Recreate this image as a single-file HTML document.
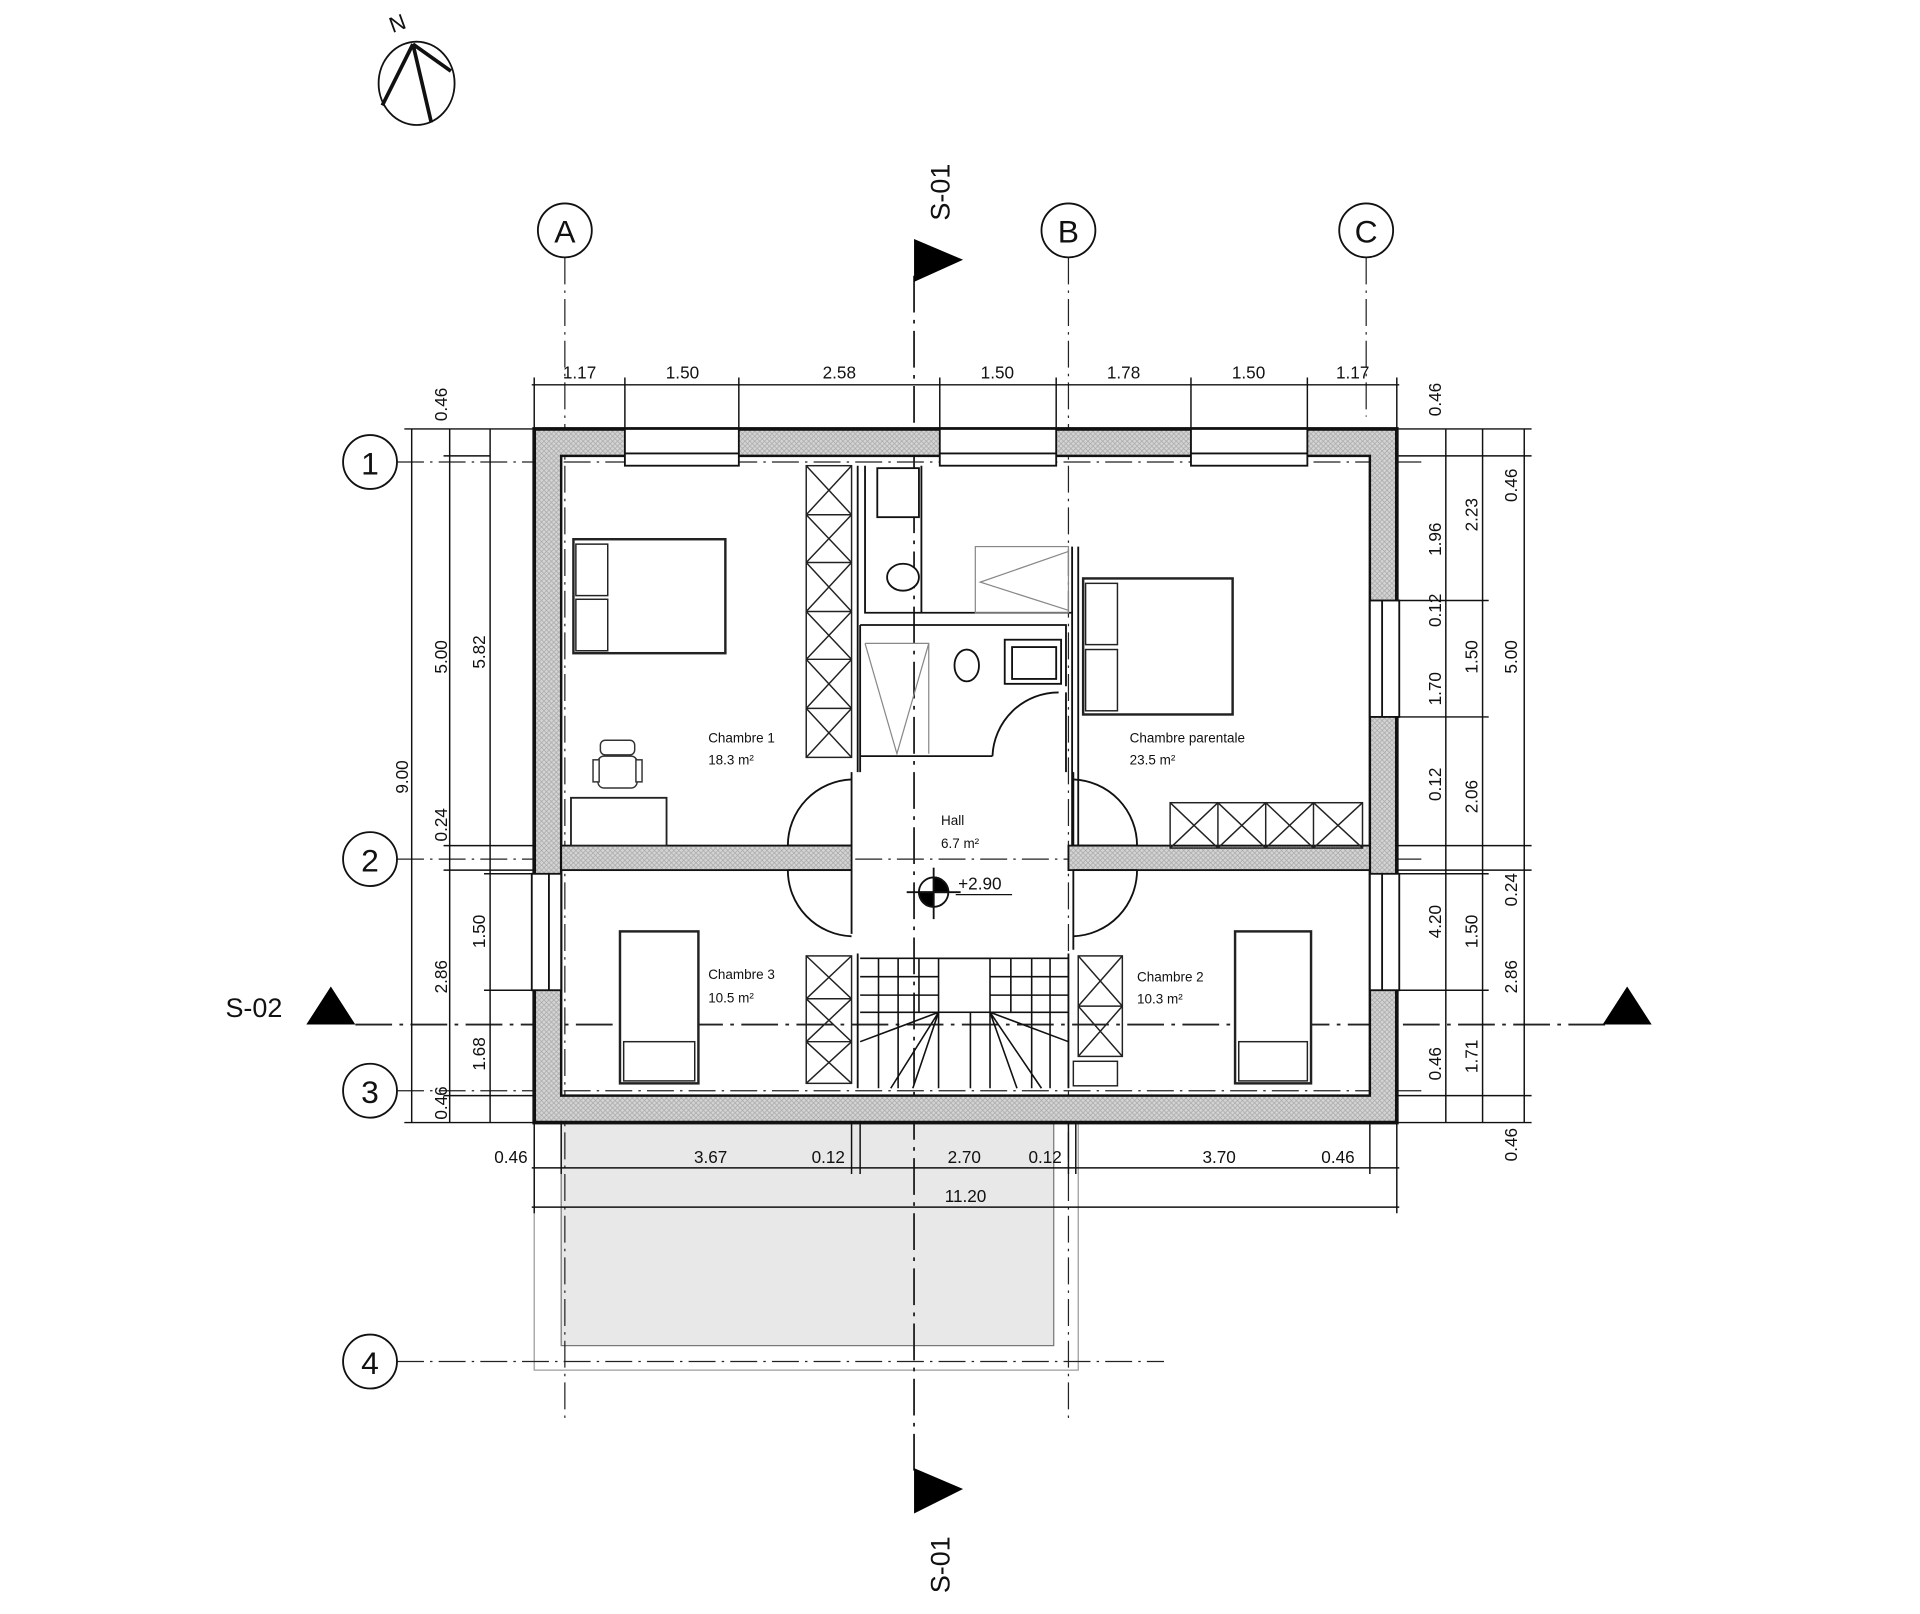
<!DOCTYPE html>
<html><head><meta charset="utf-8"><style>
html,body{margin:0;padding:0;background:#fff;}
svg{display:block;}
text{font-family:"Liberation Sans",sans-serif;fill:#111;}
</style></head><body>
<svg width="1920" height="1614" viewBox="0 0 1567 1317" preserveAspectRatio="none" xmlns="http://www.w3.org/2000/svg">
<defs>
<pattern id="h" width="4" height="4" patternUnits="userSpaceOnUse">
<rect width="4" height="4" fill="#d4d4d4"/><path d="M0,0L4,4M4,0L0,4" stroke="#a8a8a8" stroke-width="0.6"/>
</pattern>
</defs>
<rect width="1567" height="1317" fill="#fff"/>

<!-- compass -->
<g stroke="#111" fill="none">
<ellipse cx="340" cy="68" rx="31" ry="34" stroke-width="1.5"/>
<path d="M337,36 L312,86 M337,36 L352,100 M337,36 L368,58" stroke-width="3"/>
</g>
<text x="318" y="26" font-size="18" transform="rotate(-20 322 20)">N</text>

<!-- balcony -->
<rect x="436" y="916" width="444" height="202" fill="none" stroke="#999" stroke-width="1"/>
<rect x="458" y="916" width="402" height="182" fill="#e8e8e8" stroke="#777" stroke-width="1"/>

<!-- grid lines -->
<g stroke="#222" stroke-width="1" stroke-dasharray="22,5,2,5" fill="none">
<line x1="461" y1="210" x2="461" y2="1160"/>
<line x1="872" y1="210" x2="872" y2="1160"/>
<line x1="1115" y1="210" x2="1115" y2="340"/>
<line x1="324" y1="377" x2="1160" y2="377"/>
<line x1="324" y1="701" x2="1160" y2="701"/>
<line x1="324" y1="890" x2="1160" y2="890"/>
<line x1="324" y1="1111" x2="950" y2="1111"/>
<line x1="746" y1="225" x2="746" y2="1205" stroke-width="1.5" stroke-dasharray="30,6,3,6"/>
<line x1="290" y1="836" x2="1310" y2="836" stroke-width="1.5" stroke-dasharray="30,6,3,6"/>
</g>
<g stroke="#111" stroke-width="1.5" fill="#fff">
<circle cx="461" cy="188" r="22"/><circle cx="872" cy="188" r="22"/><circle cx="1115" cy="188" r="22"/>
<circle cx="302" cy="377" r="22"/><circle cx="302" cy="701" r="22"/><circle cx="302" cy="890" r="22"/><circle cx="302" cy="1111" r="22"/>
</g>
<g font-size="26" text-anchor="middle">
<text x="461" y="198">A</text><text x="872" y="198">B</text><text x="1115" y="198">C</text>
<text x="302" y="387">1</text><text x="302" y="711">2</text><text x="302" y="900">3</text><text x="302" y="1121">4</text>
</g>

<!-- section markers -->
<path d="M746,195 L786,212 L746,230Z" fill="#000"/>
<path d="M746,1198 L786,1215 L746,1235Z" fill="#000"/>
<path d="M250,836 L270,805 L290,836Z" fill="#000"/>
<path d="M1308,836 L1328,805 L1348,836Z" fill="#000"/>
<text x="775" y="180" font-size="22" transform="rotate(-90 775 180)">S-01</text>
<text x="775" y="1300" font-size="22" transform="rotate(-90 775 1300)">S-01</text>
<text x="184" y="830" font-size="22">S-02</text>

<!-- walls -->
<path d="M436,350H1140V916H436Z M458,372V894H1118V372Z" fill="url(#h)" fill-rule="evenodd"/>
<rect x="436" y="350" width="704" height="566" fill="none" stroke="#111" stroke-width="3"/>
<rect x="458" y="372" width="660" height="522" fill="none" stroke="#111" stroke-width="2"/>
<rect x="458" y="690" width="237" height="20" fill="url(#h)" stroke="#111" stroke-width="1.5"/>
<rect x="872" y="690" width="246" height="20" fill="url(#h)" stroke="#111" stroke-width="1.5"/>
<g fill="#fff" stroke="#111" stroke-width="1.5">
<rect x="510" y="350" width="93" height="30"/><rect x="767" y="350" width="95" height="30"/><rect x="972" y="350" width="95" height="30"/>
<rect x="1118" y="490" width="24" height="95"/><rect x="1118" y="713" width="24" height="95"/>
<rect x="434" y="713" width="24" height="95"/>
</g>
<g stroke="#111" stroke-width="1.5">
<line x1="510" y1="370" x2="603" y2="370"/><line x1="767" y1="370" x2="862" y2="370"/><line x1="972" y1="370" x2="1067" y2="370"/>
<line x1="1128" y1="490" x2="1128" y2="585"/><line x1="1128" y1="713" x2="1128" y2="808"/><line x1="448" y1="713" x2="448" y2="808"/>
</g>

<!-- partitions -->
<g fill="none" stroke="#111" stroke-width="1.5">
<path d="M700,380V630 M706,380V500H752V380 M706,500H875V446 M880,446V690 M875,446V690"/>
<path d="M702,510H870V560 M702,510V617H810 M702,617V630 M870,565V630"/>
<path d="M695,630V690 M695,710V762 M876,630V690 M876,710V775"/>
<path d="M700,778V888 M872,778V888"/>
</g>
<g fill="none" stroke="#888" stroke-width="1">
<rect x="796" y="446" width="76" height="54"/><path d="M872,450L800,475L872,498"/>
<path d="M706,525H758V615 M706,525L732,615L758,525"/>
</g>
<g fill="#fff" stroke="#111" stroke-width="1.5">
<rect x="716" y="382" width="34" height="40"/>
<ellipse cx="737" cy="471" rx="13" ry="11"/>
<ellipse cx="789" cy="543" rx="10" ry="13"/>
<rect x="820" y="522" width="46" height="36"/><rect x="826" y="528" width="36" height="26"/>
</g>

<!-- closets -->
<g fill="none" stroke="#222" stroke-width="1.2">
<rect x="658" y="380" width="37" height="238"/>
<path d="M658,420H695M658,459H695M658,499H695M658,538H695M658,578H695"/>
<path d="M658,380L695,420M695,380L658,420M658,420L695,459M695,420L658,459M658,459L695,499M695,459L658,499M658,499L695,538M695,499L658,538M658,538L695,578M695,538L658,578M658,578L695,618M695,578L658,618"/>
<rect x="955" y="655" width="157" height="37"/>
<path d="M994,655V692M1033,655V692M1072,655V692"/>
<path d="M955,655L994,692M994,655L955,692M994,655L1033,692M1033,655L994,692M1033,655L1072,692M1072,655L1033,692M1072,655L1112,692M1112,655L1072,692"/>
<rect x="658" y="780" width="37" height="104"/>
<path d="M658,815H695M658,850H695"/>
<path d="M658,780L695,815M695,780L658,815M658,815L695,850M695,815L658,850M658,850L695,884M695,850L658,884"/>
<rect x="880" y="780" width="36" height="82"/>
<path d="M880,821H916M880,780L916,821M916,780L880,821M880,821L916,862M916,821L880,862"/>
<rect x="876" y="866" width="36" height="20"/>
</g>

<!-- beds -->
<g fill="#fff" stroke="#222" stroke-width="2">
<rect x="468" y="440" width="124" height="93"/>
<rect x="470" y="444" width="26" height="42" stroke-width="1.2"/><rect x="470" y="489" width="26" height="42" stroke-width="1.2"/>
<rect x="884" y="472" width="122" height="111"/>
<rect x="886" y="476" width="26" height="50" stroke-width="1.2"/><rect x="886" y="530" width="26" height="50" stroke-width="1.2"/>
<rect x="506" y="760" width="64" height="124"/><rect x="509" y="850" width="58" height="32" stroke-width="1.2"/>
<rect x="1008" y="760" width="62" height="124"/><rect x="1011" y="850" width="56" height="32" stroke-width="1.2"/>
<rect x="466" y="651" width="78" height="39" stroke-width="1.5"/>
</g>
<g fill="#fff" stroke="#333" stroke-width="1.2">
<rect x="490" y="604" width="28" height="12" rx="4"/><rect x="488" y="617" width="32" height="26" rx="5"/>
<rect x="484" y="620" width="5" height="18"/><rect x="519" y="620" width="5" height="18"/>
</g>

<!-- doors -->
<g fill="none" stroke="#111" stroke-width="1.5">
<path d="M695,636 A54,54 0 0 0 643,690"/>
<path d="M643,710 A54,54 0 0 0 695,764"/>
<path d="M876,636 A54,54 0 0 1 928,690"/>
<path d="M928,710 A54,54 0 0 1 876,764"/>
<path d="M810,617 A54,54 0 0 1 864,565"/>
<line x1="643" y1="690" x2="695" y2="690"/><line x1="643" y1="710" x2="695" y2="710"/>
<line x1="876" y1="690" x2="928" y2="690"/><line x1="876" y1="710" x2="928" y2="710"/>
</g>

<!-- stairs -->
<g fill="none" stroke="#111" stroke-width="1.3">
<path d="M702,782H872 M702,797H766 M808,797H872 M702,812H766 M808,812H872 M702,826H766 M808,826H872"/>
<rect x="766" y="782" width="42" height="44"/>
<path d="M717,782V888 M733,782V888 M750,782V826 M825,782V826 M842,782V888 M857,782V888"/>
<path d="M766,826V888 M792,826V888 M808,826V888"/>
<path d="M766,826L727,888 M766,826L745,888 M808,826L850,888 M808,826L830,888 M702,850L766,826 M872,850L808,826"/>
</g>

<g stroke="#111" stroke-width="1.5">
<circle cx="762" cy="728" r="12" fill="#fff"/>
<path d="M762,716A12,12 0 0 1 774,728H762Z M762,728V740A12,12 0 0 1 750,728Z" fill="#000"/>
<line x1="740" y1="728" x2="784" y2="728"/><line x1="762" y1="708" x2="762" y2="750"/>
<line x1="780" y1="730" x2="826" y2="730" stroke-width="1"/>
</g>
<text x="782" y="726" font-size="14">+2.90</text>

<g font-size="11">
<text x="578" y="606">Chambre 1</text><text x="578" y="624">18.3 m²</text>
<text x="922" y="606">Chambre parentale</text><text x="922" y="624">23.5 m²</text>
<text x="768" y="673">Hall</text><text x="768" y="692">6.7 m²</text>
<text x="578" y="799">Chambre 3</text><text x="578" y="818">10.5 m²</text>
<text x="928" y="801">Chambre 2</text><text x="928" y="819">10.3 m²</text>
</g>

<!-- dimensions top -->
<g stroke="#111" stroke-width="1.2" fill="none">
<line x1="434" y1="314" x2="1142" y2="314"/>
<path d="M436,308V350 M510,308V350 M603,308V350 M767,308V350 M862,308V350 M972,308V350 M1067,308V350 M1140,308V350"/>
</g>
<g font-size="14" text-anchor="middle">
<text x="473" y="309">1.17</text><text x="557" y="309">1.50</text><text x="685" y="309">2.58</text>
<text x="814" y="309">1.50</text><text x="917" y="309">1.78</text><text x="1019" y="309">1.50</text><text x="1104" y="309">1.17</text>
</g>

<g stroke="#111" stroke-width="1.2" fill="none">
<line x1="336" y1="350" x2="336" y2="916"/><line x1="367" y1="350" x2="367" y2="916"/><line x1="400" y1="350" x2="400" y2="916"/>
<path d="M330,350H436 M362,372H400 M362,690H436 M362,710H436 M395,713H436 M395,808H436 M362,894H436 M330,916H436"/>
</g>
<g font-size="14" text-anchor="middle">
<text transform="translate(365,330) rotate(-90)">0.46</text>
<text transform="translate(333,634) rotate(-90)">9.00</text>
<text transform="translate(365,536) rotate(-90)">5.00</text>
<text transform="translate(396,532) rotate(-90)">5.82</text>
<text transform="translate(365,673) rotate(-90)">0.24</text>
<text transform="translate(396,760) rotate(-90)">1.50</text>
<text transform="translate(365,797) rotate(-90)">2.86</text>
<text transform="translate(396,860) rotate(-90)">1.68</text>
<text transform="translate(365,900) rotate(-90)">0.46</text>
</g>

<g stroke="#111" stroke-width="1.2" fill="none">
<line x1="1180" y1="350" x2="1180" y2="916"/><line x1="1210" y1="350" x2="1210" y2="916"/><line x1="1244" y1="350" x2="1244" y2="916"/>
<path d="M1140,350H1250 M1140,372H1250 M1140,490H1215 M1140,585H1215 M1140,690H1250 M1140,710H1250 M1140,713H1215 M1140,808H1215 M1140,894H1250 M1140,916H1250"/>
</g>
<g font-size="14" text-anchor="middle">
<text transform="translate(1176,326) rotate(-90)">0.46</text>
<text transform="translate(1176,440) rotate(-90)">1.96</text>
<text transform="translate(1176,498) rotate(-90)">0.12</text>
<text transform="translate(1176,562) rotate(-90)">1.70</text>
<text transform="translate(1176,640) rotate(-90)">0.12</text>
<text transform="translate(1176,752) rotate(-90)">4.20</text>
<text transform="translate(1176,868) rotate(-90)">0.46</text>
<text transform="translate(1206,420) rotate(-90)">2.23</text>
<text transform="translate(1206,536) rotate(-90)">1.50</text>
<text transform="translate(1206,650) rotate(-90)">2.06</text>
<text transform="translate(1206,760) rotate(-90)">1.50</text>
<text transform="translate(1206,862) rotate(-90)">1.71</text>
<text transform="translate(1238,396) rotate(-90)">0.46</text>
<text transform="translate(1238,536) rotate(-90)">5.00</text>
<text transform="translate(1238,726) rotate(-90)">0.24</text>
<text transform="translate(1238,797) rotate(-90)">2.86</text>
<text transform="translate(1238,934) rotate(-90)">0.46</text>
</g>

<g stroke="#111" stroke-width="1.2" fill="none">
<line x1="434" y1="953" x2="1142" y2="953"/><line x1="434" y1="985" x2="1142" y2="985"/>
<path d="M436,916V990 M458,916V958 M695,916V958 M702,916V958 M872,916V958 M878,916V958 M1118,916V958 M1140,916V990"/>
</g>
<g font-size="14" text-anchor="middle">
<text x="417" y="949">0.46</text><text x="580" y="949">3.67</text><text x="676" y="949">0.12</text>
<text x="787" y="949">2.70</text><text x="853" y="949">0.12</text><text x="995" y="949">3.70</text><text x="1092" y="949">0.46</text>
<text x="788" y="981">11.20</text>
</g>
</svg>
</body></html>
